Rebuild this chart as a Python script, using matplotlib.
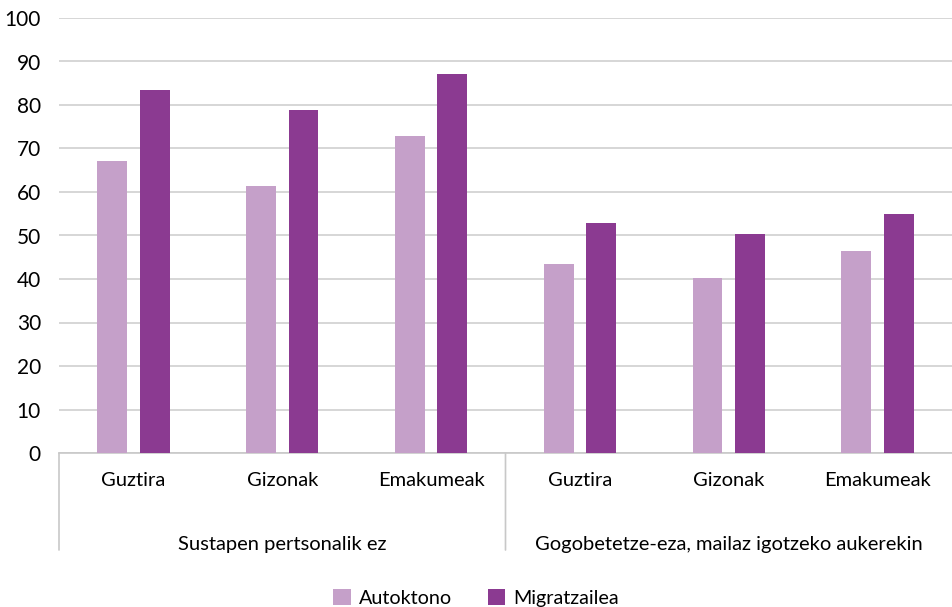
import numpy as np
import matplotlib.pyplot as plt

plt.rcParams['font.family'] = ['Lato', 'DejaVu Sans']

groups = ['Sustapen pertsonalik ez', 'Gogobetetze-eza, mailaz igotzeko aukerekin']
categories = ['Guztira', 'Gizonak', 'Emakumeak', 'Guztira', 'Gizonak', 'Emakumeak']
autoktono = [67.1, 61.4, 72.9, 43.4, 40.2, 46.4]
migratzailea = [83.4, 78.9, 87.1, 52.9, 50.4, 54.9]
series_names = ['Autoktono', 'Migratzailea']
colors = ['#C5A0C9', '#8B3A91']

fig = plt.figure(figsize=(9.52, 6.07), dpi=100)
ax = fig.add_axes([59 / 952, (607 - 453) / 607, 1 - 59 / 952, (453 - 18) / 607])

x = np.arange(len(categories))
w = 0.2
off = 0.143
ax.bar(x - off, autoktono, w, color=colors[0], label=series_names[0], zorder=3)
ax.bar(x + off, migratzailea, w, color=colors[1], label=series_names[1], zorder=3)

ax.set_xlim(-0.5, len(categories) - 0.5)
ax.set_ylim(0, 100)
ax.set_yticks(np.arange(0, 101, 10))
ax.grid(axis='y', color='#D0D0D0', lw=1.2, zorder=0)
for s in ['top', 'right', 'left']:
    ax.spines[s].set_visible(False)
ax.spines['bottom'].set_color('#C8C8C8')
ax.spines['bottom'].set_linewidth(1.2)
ax.tick_params(axis='y', length=0, pad=13, labelsize=15)
ax.tick_params(axis='x', length=0, labelbottom=False)

# category labels and group labels (hierarchical axis)
for xi, c in zip(x, categories):
    ax.annotate(c, (xi, 0), xytext=(0, -20), textcoords='offset points',
                ha='center', va='center', fontsize=14.5, annotation_clip=False)
for gi, g in enumerate(groups):
    ax.annotate(g, (gi * 3 + 1, 0), xytext=(0, -66), textcoords='offset points',
                ha='center', va='center', fontsize=14.5, annotation_clip=False)
for xs in [-0.5, 2.5]:
    ax.annotate('', (xs, 0), xytext=(xs, -97), textcoords=('data', 'offset pixels'),
                arrowprops=dict(arrowstyle='-', color='#C8C8C8', lw=1.2, shrinkA=0, shrinkB=0),
                annotation_clip=False)

fig.legend(loc='lower center', bbox_to_anchor=(0.5, -0.029), ncol=2, frameon=False,
           fontsize=14.2, handlelength=0.9, handleheight=0.9, handletextpad=0.4,
           columnspacing=1.8)

fig.savefig('out.png', dpi=100)
